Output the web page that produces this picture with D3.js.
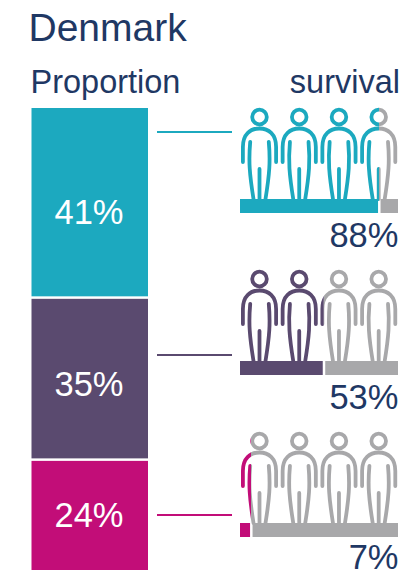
<!DOCTYPE html>
<html>
<head>
<meta charset="utf-8">
<script src="https://cdn.jsdelivr.net/npm/d3@7"></script>
<style>
  html, body { margin: 0; padding: 0; background: #fff; overflow: hidden; }
  text { font-family: "Liberation Sans", Arial, sans-serif; }
</style>
</head>
<body>
<div id="chart"></div>
<script>
const width = 403;
const height = 570;

// values
const groups = ["high", "middle", "low"];
const proportion = [41, 35, 24];
const survival = [88, 53, 7];
const people = [0, 1, 2, 3];

const colors = ["#1ca9bf", "#5a4a6f", "#c20d78"];
const grey = "#a8a8aa";
const navy = "#1f3864";

// vertical placement of each row (not data)
const barTop = [199, 361, 523];
const lineY = [132, 355, 515];
const stackLabelY = [223.5, 395.5, 526.5];
const survivalLabelY = [247, 409, 569];

let svg = d3.select("#chart")
  .append("svg")
  .attr("width", width)
  .attr("height", height);

let yStack = d3.scaleLinear().domain([0, 100]).range([108, 571]);
let xSurvival = d3.scaleLinear().domain([0, 100]).range([240, 398]);
let xPerson = d3.scalePoint().domain(people).range([259.5, 378.7]);

// one figure, drawn around its own centre line, feet at y=0
function personPath() {
  let p = d3.path();
  // head
  p.moveTo(7.3, -82);
  p.arc(0, -82, 7.3, 0, 2 * Math.PI);
  // arms and shoulders
  p.moveTo(-16.6, -37);
  p.lineTo(-16.6, -52);
  p.bezierCurveTo(-16.6, -65, -9, -70.5, 0, -70.5);
  p.bezierCurveTo(9, -70.5, 16.6, -65, 16.6, -52);
  p.lineTo(16.6, -37);
  // inner sides of the body
  p.moveTo(-9.3, -57);
  p.bezierCurveTo(-11, -38, -10, -25, -6, 0);
  p.moveTo(9.3, -57);
  p.bezierCurveTo(11, -38, 10, -25, 6, 0);
  // between the legs
  p.moveTo(0, -30);
  p.lineTo(0, 0);
  return p.toString();
}

// title and headers
svg.append("text").attr("x", 28.5).attr("y", 41)
  .attr("font-size", 39).attr("fill", navy).text("Denmark");
svg.append("text").attr("x", 30.5).attr("y", 92.5)
  .attr("font-size", 32.5).attr("fill", navy).text("Proportion");
svg.append("text").attr("x", 400).attr("y", 92.5).attr("text-anchor", "end")
  .attr("font-size", 32.5).attr("fill", navy).text("survival");

// stacked bar on the left
let cum = 0;
let stack = proportion.map(function(v) {
  let d = { start: cum, end: cum + v, value: v };
  cum += v;
  return d;
});

svg.selectAll("rect.stack")
  .data(stack)
  .enter().append("rect")
  .attr("class", "stack")
  .attr("x", 31.5)
  .attr("width", 116.5)
  .attr("y", function(d, i) { return yStack(d.start) + (i ? 1 : 0); })
  .attr("height", function(d, i) { return yStack(d.end) - yStack(d.start) - (i ? 1 : 0) - (i < 2 ? 1.5 : 0); })
  .attr("fill", function(d, i) { return colors[i]; });

svg.selectAll("text.stack")
  .data(stack)
  .enter().append("text")
  .attr("class", "stack")
  .attr("x", 89)
  .attr("y", function(d, i) { return stackLabelY[i]; })
  .attr("text-anchor", "middle")
  .attr("font-size", 34.5)
  .attr("fill", "#fff")
  .text(function(d) { return d.value + "%"; });

// connectors
svg.selectAll("line.link")
  .data(groups)
  .enter().append("line")
  .attr("class", "link")
  .attr("x1", 157).attr("x2", 232)
  .attr("y1", function(d, i) { return lineY[i]; })
  .attr("y2", function(d, i) { return lineY[i]; })
  .attr("stroke", function(d, i) { return colors[i]; })
  .attr("stroke-width", 2);

// clip regions for the coloured and grey part of each row
let defs = svg.append("defs");
survival.forEach(function(v, i) {
  defs.append("clipPath").attr("id", "on" + i).append("rect")
    .attr("x", 230).attr("y", 100)
    .attr("width", xSurvival(v) - 230).attr("height", height);
  defs.append("clipPath").attr("id", "off" + i).append("rect")
    .attr("x", xSurvival(v)).attr("y", 100)
    .attr("width", width - xSurvival(v)).attr("height", height);
});

// figures, bars and percentages on the right
groups.forEach(function(g, i) {
  let row = svg.append("g").attr("class", "row-" + g);

  [["off" + i, grey], ["on" + i, colors[i]]].forEach(function(part) {
    row.append("g")
      .attr("clip-path", "url(#" + part[0] + ")")
      .selectAll("path")
      .data(people)
      .enter().append("path")
      .attr("transform", function(d) { return "translate(" + xPerson(d) + "," + barTop[i] + ")"; })
      .attr("d", personPath())
      .attr("fill", "none")
      .attr("stroke", part[1])
      .attr("stroke-width", 3.8)
      .attr("stroke-linecap", "round");
  });

  row.append("rect")
    .attr("x", xSurvival(0))
    .attr("y", barTop[i])
    .attr("width", xSurvival(survival[i]) - xSurvival(0) - 1)
    .attr("height", 14)
    .attr("fill", colors[i]);

  row.append("rect")
    .attr("x", xSurvival(survival[i]) + 1.5)
    .attr("y", barTop[i])
    .attr("width", xSurvival(100) - xSurvival(survival[i]) - 1.5)
    .attr("height", 14)
    .attr("fill", grey);

  row.append("text")
    .attr("x", 398.5)
    .attr("y", survivalLabelY[i])
    .attr("text-anchor", "end")
    .attr("font-size", 34.5)
    .attr("fill", navy)
    .text(survival[i] + "%");
});
</script>
</body>
</html>
